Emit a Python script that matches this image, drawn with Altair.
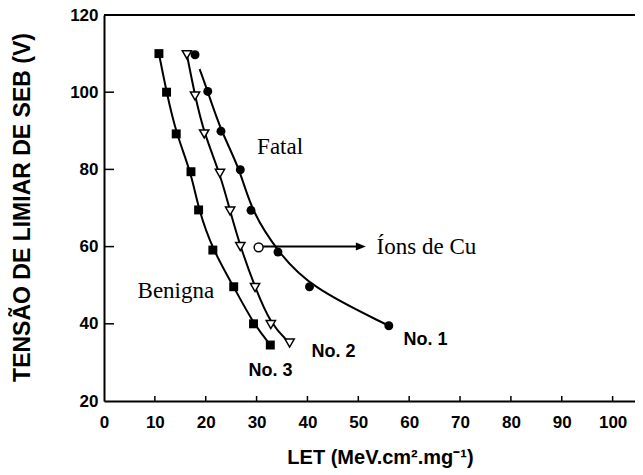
import altair as alt
import pandas as pd

# ---- data ----
no3_let = [10.8, 12.3, 14.2, 17.1, 18.6, 21.4, 25.5, 29.4, 32.7]
no3_v = [110, 100, 89.2, 79.4, 69.5, 59.1, 49.6, 40.0, 34.5]

no2_let = [16.3, 17.9, 19.7, 22.8, 24.8, 26.8, 29.7, 32.8, 36.5]
no2_v = [109.7, 99.0, 89.2, 79.0, 69.2, 60.0, 49.4, 39.8, 35.0]

no1_let = [17.9, 20.4, 23.0, 26.8, 28.9, 34.2, 40.4, 56.0]
no1_v = [109.7, 100.2, 89.9, 79.9, 69.4, 58.6, 49.6, 39.5]

# fitted curve of No. 1 (starts just below the first point)
no1_curve_let = [18.8, 20.4, 23.0, 26.8, 28.9, 34.2, 40.4, 56.0]
no1_curve_v = [106.0, 100.2, 89.9, 79.9, 69.4, 58.6, 49.6, 39.5]

cu_let = [30.4]
cu_v = [59.8]
arrow_let = [31.3, 50.5]
arrow_v = [60.0, 60.0]

x_ticks = [0, 10, 20, 30, 40, 50, 60, 70, 80, 90, 100]
y_ticks = [20, 40, 60, 80, 100, 120]

serif_labels = ["Fatal", "Benigna", "Íons de Cu"]
serif_x = [30.1, 6.6, 53.6]
serif_y = [84.0, 46.7, 58.2]

no_labels = ["No. 1", "No. 2", "No. 3"]
no_x = [58.9, 40.8, 28.4]
no_y = [34.5, 31.4, 26.5]

W = 531
H = 386

# ---- shared encodings ----
xscale = alt.Scale(domain=[0, 104.4], nice=False, zero=False)
yscale = alt.Scale(domain=[20, 120], nice=False, zero=False)

xaxis = alt.Axis(
    values=x_ticks, title="LET (MeV.cm².mg⁻¹)", grid=False, ticks=False, tickSize=0,
    domainColor="black", domainWidth=2, labelColor="black",
    labelFont="Liberation Sans", labelFontSize=17, labelFontWeight="bold", labelPadding=13,
    titleFont="Liberation Sans", titleFontSize=20, titleFontWeight="bold", titleColor="black",
    titleX=276, titleY=56, titleBaseline="middle", labelFlush=False,
)
yaxis = alt.Axis(
    values=y_ticks, title="TENSÃO DE LIMIAR DE SEB (V)", grid=False, ticks=False, tickSize=0,
    domainColor="black", domainWidth=2, labelColor="black",
    labelFont="Liberation Sans", labelFontSize=17, labelFontWeight="bold", labelPadding=6,
    titleFont="Liberation Sans", titleFontSize=23, titleFontWeight="bold", titleColor="black",
    titleX=-82, titleY=H / 2 - 1, titleBaseline="middle", titleAlign="center", labelFlush=False,
)

X = alt.X("x:Q", scale=xscale, axis=xaxis)
Y = alt.Y("y:Q", scale=yscale, axis=yaxis)

# ---- data frames ----
curves = pd.concat([
    pd.DataFrame({"x": no3_let, "y": no3_v, "s": "No. 3"}),
    pd.DataFrame({"x": no2_let, "y": no2_v, "s": "No. 2"}),
    pd.DataFrame({"x": no1_curve_let, "y": no1_curve_v, "s": "No. 1"}),
])
df3 = pd.DataFrame({"x": no3_let, "y": no3_v})
df2 = pd.DataFrame({"x": no2_let, "y": no2_v})
df1 = pd.DataFrame({"x": no1_let, "y": no1_v})
dfcu = pd.DataFrame({"x": cu_let, "y": cu_v})
dfarrow = pd.DataFrame({"x": [arrow_let[0]], "x2": [arrow_let[1]], "y": [arrow_v[0]]})
dfhead = pd.DataFrame({"x": [arrow_let[1]], "y": [arrow_v[1]]})
dfserif = pd.DataFrame({"x": serif_x, "y": serif_y, "t": serif_labels})
dfno = pd.DataFrame({"x": no_x, "y": no_y, "t": no_labels})
dfxt = pd.DataFrame({"x": x_ticks[1:]})
dfyt = pd.DataFrame({"y": y_ticks[1:]})

lines = alt.Chart(curves).mark_line(
    interpolate="basis", color="black", strokeWidth=2
).encode(x=X, y=Y, detail="s:N")

squares = alt.Chart(df3).mark_point(
    shape="square", filled=True, color="black", size=80, opacity=1
).encode(x=X, y=Y)

triangles = alt.Chart(df2).mark_point(
    shape="triangle-down", filled=True, fill="white", stroke="black", strokeWidth=1.5, size=85, opacity=1
).encode(x=X, y=Y)

circles = alt.Chart(df1).mark_point(
    shape="circle", filled=True, color="black", size=80, opacity=1
).encode(x=X, y=Y)

arrow = alt.Chart(dfarrow).mark_rule(color="black", strokeWidth=2).encode(
    x=X, x2="x2:Q", y=Y
)
head = alt.Chart(dfhead).mark_point(
    shape="M -1 -0.8 L 1 0 L -1 0.8 Z", filled=True, color="black", size=100, opacity=1
).encode(x=X, y=Y)

cu = alt.Chart(dfcu).mark_point(
    shape="circle", filled=True, fill="white", stroke="black", strokeWidth=1.5, size=80, opacity=1
).encode(x=X, y=Y)

serif_text = alt.Chart(dfserif).mark_text(
    font="Liberation Serif", fontSize=23, align="left", baseline="alphabetic", color="black"
).encode(x=X, y=Y, text="t:N")

no_text = alt.Chart(dfno).mark_text(
    font="Liberation Sans", fontSize=18, fontWeight="bold", align="left", baseline="alphabetic", color="black"
).encode(x=X, y=Y, text="t:N")

xt = alt.Chart(dfxt).mark_rule(color="black", strokeWidth=1.5).encode(
    x=X, y=alt.value(H - 5), y2=alt.value(H)
)
yt = alt.Chart(dfyt).mark_rule(color="black", strokeWidth=1.5).encode(
    y=Y, x=alt.value(0), x2=alt.value(10)
)
top = alt.Chart(pd.DataFrame({"a": [0]})).mark_rule(color="black", strokeWidth=2).encode(
    x=alt.value(0), x2=alt.value(W), y=alt.value(0)
)

chart = alt.layer(
    xt, yt, top, lines, arrow, head, squares, triangles, circles, cu, serif_text, no_text
).properties(
    width=W, height=H,
    autosize=alt.AutoSizeParams(type="none"),
    padding={"left": 96, "top": 7, "right": 0, "bottom": 69},
    background="white",
).configure_view(stroke=None)

chart.save("out.html", embed_options={"renderer": "svg", "actions": False})
